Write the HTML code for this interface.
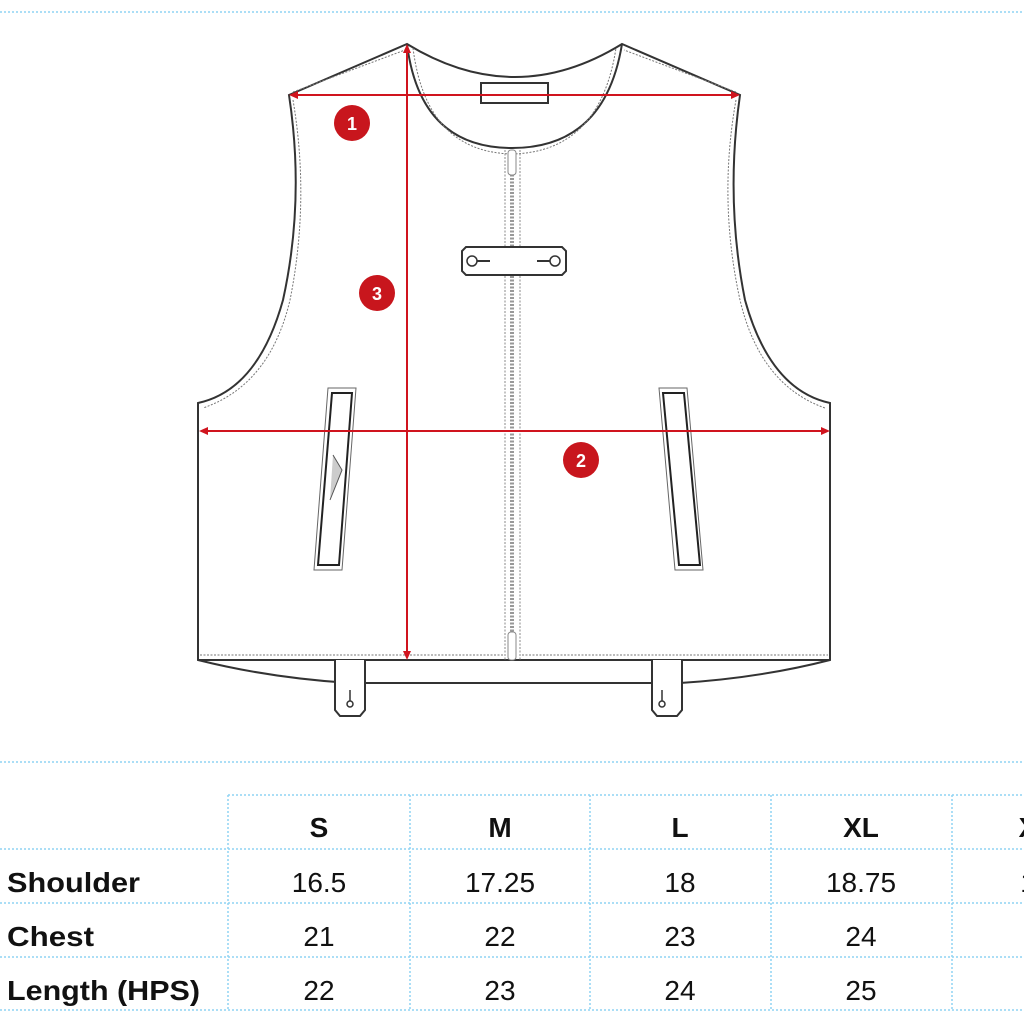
<!DOCTYPE html>
<html><head><meta charset="utf-8"><style>
html,body{margin:0;padding:0;background:#fff;}
body{width:1024px;height:1024px;overflow:hidden;position:relative;font-family:"Liberation Sans",Arial,sans-serif;}
svg{position:absolute;left:0;top:0;}
</style></head><body>
<svg width="1024" height="1024" viewBox="0 0 1024 1024">
<g fill="none" stroke="#8fd3f4" stroke-width="1.5" stroke-dasharray="2,2">
<line x1="0" y1="12" x2="1024" y2="12"/>
<line x1="0" y1="762" x2="1024" y2="762"/>
<line x1="228" y1="795" x2="1024" y2="795"/>
<line x1="0" y1="849" x2="1024" y2="849"/>
<line x1="0" y1="903" x2="1024" y2="903"/>
<line x1="0" y1="957" x2="1024" y2="957"/>
<line x1="0" y1="1010" x2="1024" y2="1010"/>
<line x1="228" y1="795" x2="228" y2="1010"/>
<line x1="410" y1="795" x2="410" y2="1010"/>
<line x1="590" y1="795" x2="590" y2="1010"/>
<line x1="771" y1="795" x2="771" y2="1010"/>
<line x1="952" y1="795" x2="952" y2="1010"/>
</g>
<!-- vest -->
<g fill="#fff" stroke="#333" stroke-width="2">
<path d="M289,95 L407,44 Q515,110 622,44 L740,95 Q725,200 745,300 Q770,390 830,403 L830,660 Q760,678 680,683 L350,683 Q270,678 198,660 L198,403 Q258,390 283,300 Q305,200 289,95 Z"/>
<line x1="198" y1="660" x2="830" y2="660"/>
<path d="M407,44 Q420,148 512,148 Q605,148 622,44" fill="none"/>
<path d="M335,660 L335,710 L340,716 L360,716 L365,710 L365,660" />
<path d="M652,660 L652,710 L657,716 L677,716 L682,710 L682,660" />
<rect x="481" y="83" width="67" height="20" fill="#fff"/>
</g>
<g fill="none" stroke="#777" stroke-width="1" stroke-dasharray="2,1.5">
<path d="M293,100 Q310,200 290,300 Q270,385 203,408"/>
<path d="M736,100 Q718,200 740,300 Q760,385 825,408"/>
<path d="M413,48 Q426,152 512,154 Q600,152 616,48"/>
<line x1="200" y1="655" x2="505" y2="655"/>
<line x1="522" y1="655" x2="828" y2="655"/>
<line x1="293" y1="92" x2="405" y2="50"/>
<line x1="736" y1="92" x2="624" y2="50"/>
</g>
<!-- zipper -->
<g stroke="#888" fill="none">
<line x1="505" y1="150" x2="505" y2="660" stroke-dasharray="2,1.5"/>
<line x1="520" y1="150" x2="520" y2="660" stroke-dasharray="2,1.5"/>
<line x1="512" y1="150" x2="512" y2="660" stroke-width="4" stroke="#999" stroke-dasharray="2,1.5"/>
<rect x="508" y="150" width="8" height="25" rx="3" fill="#fff"/>
<rect x="508" y="632" width="8" height="28" rx="3" fill="#fff"/>
</g>
<path d="M466,247 L562,247 L566,251 L566,271 L562,275 L466,275 L462,271 L462,251 Z" fill="#fff" stroke="#333" stroke-width="2"/>
<circle cx="472" cy="261" r="5" fill="#fff" stroke="#333" stroke-width="1.5"/>
<circle cx="555" cy="261" r="5" fill="#fff" stroke="#333" stroke-width="1.5"/>
<line x1="477" y1="261" x2="490" y2="261" stroke="#333" stroke-width="2"/>
<line x1="537" y1="261" x2="550" y2="261" stroke="#333" stroke-width="2"/>
<!-- pockets -->
<g fill="#fff" stroke="#666">
<polygon points="328,388 356,388 342,570 314,570"/>
<polygon points="332,393 352,393 339,565 318,565" stroke="#222" stroke-width="2"/>
<polygon points="659,388 687,388 703,570 675,570"/>
<polygon points="663,393 684,393 700,565 679,565" stroke="#222" stroke-width="2"/>
</g>
<path d="M333,455 L342,470 L330,500" fill="#ccc" stroke="#555"/>
<!-- tab keyholes -->
<g stroke="#333" fill="#fff" stroke-width="1.5"><line x1="350" y1="690" x2="350" y2="702"/><circle cx="350" cy="704" r="3"/><line x1="662" y1="690" x2="662" y2="702"/><circle cx="662" cy="704" r="3"/></g>
<!-- red measures -->
<g stroke="#d0141e" stroke-width="2" fill="#d0141e">
<line x1="294" y1="95" x2="734" y2="95"/>
<polygon points="289,95 298,91 298,99" stroke="none"/>
<polygon points="740,95 731,91 731,99" stroke="none"/>
<line x1="407" y1="50" x2="407" y2="654"/>
<polygon points="407,44 403,53 411,53" stroke="none"/>
<polygon points="407,660 403,651 411,651" stroke="none"/>
<line x1="205" y1="431" x2="824" y2="431"/>
<polygon points="199,431 208,427 208,435" stroke="none"/>
<polygon points="830,431 821,427 821,435" stroke="none"/>
</g>
<g fill="#c8161d"><ellipse cx="352" cy="123" rx="18" ry="18"/><ellipse cx="377" cy="293" rx="18" ry="18"/><ellipse cx="581" cy="460" rx="18" ry="18"/></g>
<g fill="#fff" font-family="Liberation Sans,Arial,sans-serif" font-weight="bold" font-size="18" text-anchor="middle">
<text x="352" y="130">1</text><text x="377" y="300">3</text><text x="581" y="467">2</text></g>
<!-- table text -->
<g font-family="Liberation Sans,Arial,sans-serif" font-size="28" fill="#111" text-anchor="middle">
<g font-weight="bold">
<text x="319" y="837">S</text><text x="500" y="837">M</text><text x="680" y="837">L</text><text x="861" y="837">XL</text><text x="1028" y="837">X</text>
</g>
<text x="319" y="892">16.5</text><text x="500" y="892">17.25</text><text x="680" y="892">18</text><text x="861" y="892">18.75</text><text x="1028" y="892">1</text>
<text x="319" y="946">21</text><text x="500" y="946">22</text><text x="680" y="946">23</text><text x="861" y="946">24</text>
<text x="319" y="1000">22</text><text x="500" y="1000">23</text><text x="680" y="1000">24</text><text x="861" y="1000">25</text>
<g font-weight="bold" text-anchor="start">
<text x="7" y="892" textLength="133" lengthAdjust="spacingAndGlyphs">Shoulder</text>
<text x="7" y="946" textLength="87" lengthAdjust="spacingAndGlyphs">Chest</text>
<text x="7" y="1000" textLength="193" lengthAdjust="spacingAndGlyphs">Length (HPS)</text>
</g>
</g>
</svg>
</body></html>
